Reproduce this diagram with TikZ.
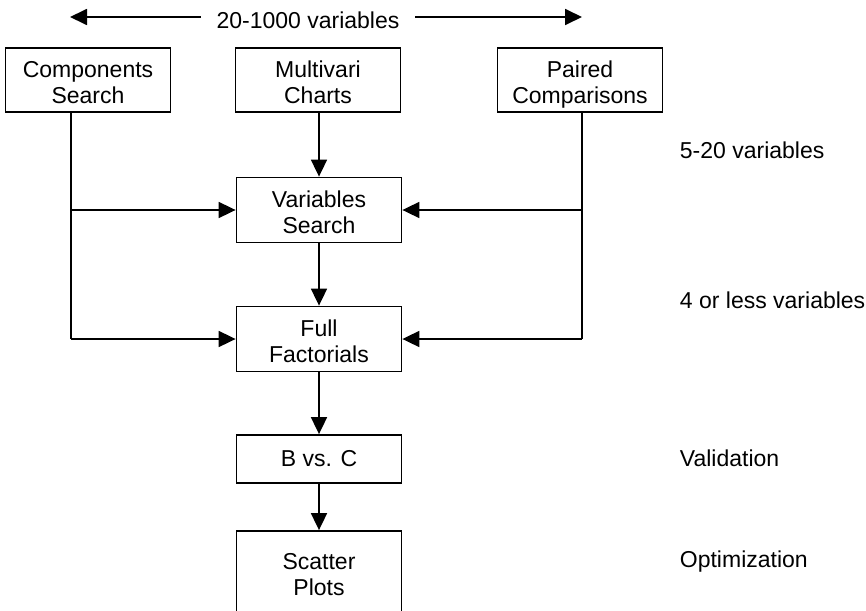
\documentclass[tikz,border=0pt]{standalone}
\usepackage{fontspec}
\setmainfont{Liberation Sans}
\usetikzlibrary{arrows.meta,calc}

\begin{document}
\begin{tikzpicture}[x=1pt,y=-1pt,line width=1.8pt,
  box/.style={draw,align=center,minimum width=165pt,minimum height=64pt,inner sep=0pt,
    text height=47.5pt,text depth=0pt},
  lbl/.style={anchor=west,inner sep=0pt},
  tip/.style={-{Triangle[length=17pt,width=16pt]}},
  every node/.style={font=\fontsize{23}{26}\selectfont}]

\useasboundingbox (0,0) rectangle (866,610);

\node (top) at (308,20) [inner xsep=15pt,inner ysep=0pt] {20-1000 variables};
\coordinate (tl) at (70,17);
\coordinate (tr) at (582,17);

\node[box] (comp) at (88,80) {Components\\Search};
\node[box] (multi) at (318,80) {Multivari\\Charts};
\node[box] (pair) at (580,80) {Paired\\Comparisons};
\node[box,minimum height=65pt] (vars) at (319,210) {Variables\\Search};
\node[box,minimum height=65pt] (fact) at (319,339) {Full\\Factorials};
\node[box,minimum height=48pt,text height=14.5pt] (bvc) at (319,459) {B vs. C};
\node[box,minimum height=82pt] (scat) at (319,572) {Scatter\\Plots};

\node[lbl] (l1) at (679,150) {5-20 variables};
\node[lbl] (l2) at (679,300) {4 or less variables};
\node[lbl] (l3) at (679,458) {Validation};
\node[lbl] (l4) at (679,562) {Optimization};

\coordinate (cl) at (71,339);
\coordinate (cr) at (582,339);

\draw[tip] (top.west |- tl) -- (tl);
\draw[tip] (top.east |- tr) -- (tr);

\draw (cl |- comp.south) -- (cl);
\draw (cr |- pair.south) -- (cr);
\path[tip] (cl |- vars.west) edge (vars.west) (cl) edge (fact.west)
  (cr |- vars.east) edge (vars.east) (cr) edge (fact.east);
\path[tip] (multi.south -| vars.north) edge (vars.north) (vars) edge (fact)
  (fact) edge (bvc) (bvc) edge (scat);

\end{tikzpicture}
\end{document}
